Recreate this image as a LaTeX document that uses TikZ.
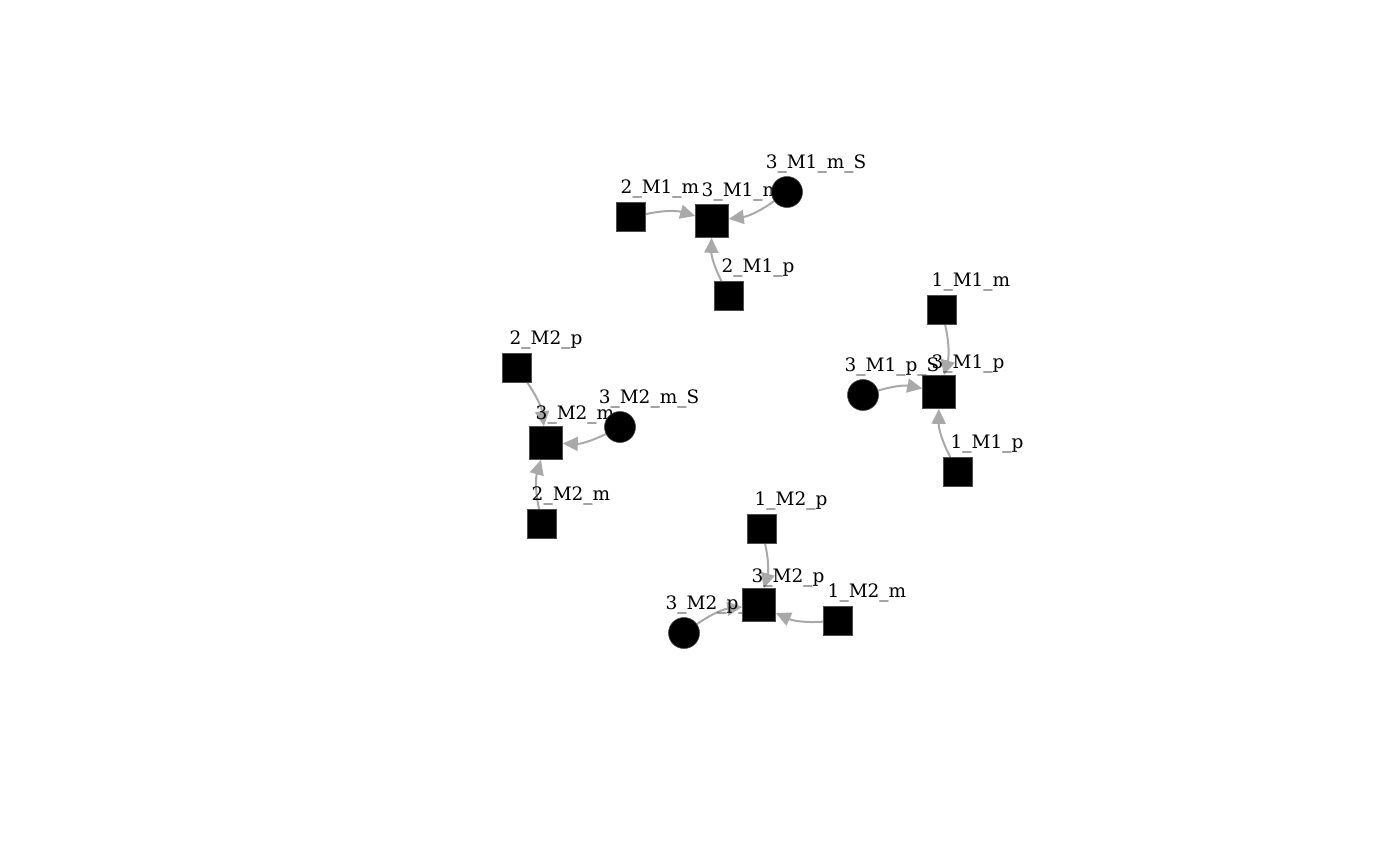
\documentclass[tikz,border=0pt]{standalone}
\usepackage{fontspec}
\setmainfont{DejaVu Serif}
\usetikzlibrary{arrows.meta}
\pgfdeclarelayer{edgelayer}
\pgfdeclarelayer{labellayer}
\pgfsetlayers{edgelayer,labellayer,main}
\definecolor{edgegray}{RGB}{169,169,169}
\tikzset{
  sq/.style={rectangle,fill=black,draw=black!70,line width=0.6pt,minimum size=29pt,inner sep=0pt},
  bigsq/.style={sq,minimum size=33pt},
  dot/.style={circle,fill=black,draw=black!70,line width=0.6pt,minimum size=31pt,inner sep=0pt},
  lab/.style={font=\fontsize{18.5}{20}\selectfont,inner sep=0pt,anchor=center},
  edge/.style={draw=edgegray,line width=2pt,-{Triangle[length=15pt,width=14pt]},bend left=14}
}
\begin{document}
\begin{tikzpicture}[x=1pt,y=-1pt]
\useasboundingbox (0,0) rectangle (1400,865);
% nodes
\node[sq] (n2M1m) at (631,217) {};
\node[bigsq] (n3M1m) at (712,221) {};
\node[dot] (n3M1mS) at (787,192) {};
\node[sq] (n2M1p) at (729,296) {};
\node[sq] (n1M1m) at (942,310) {};
\node[bigsq] (n3M1p) at (939,392) {};
\node[dot] (n3M1pS) at (863,395) {};
\node[sq] (n1M1p) at (958,472) {};
\node[sq] (n2M2p) at (517,368) {};
\node[bigsq] (n3M2m) at (546,443) {};
\node[dot] (n3M2mS) at (620,427) {};
\node[sq] (n2M2m) at (542,524) {};
\node[sq] (n1M2p) at (762,529) {};
\node[bigsq] (n3M2p) at (759,605) {};
\node[sq] (n1M2m) at (838,621) {};
\node[dot] (n3M2pS) at (684,633) {};
% labels
\begin{pgfonlayer}{labellayer}
\node[lab] (l2M1m) at (660,189) {2\_M1\_m};
\node[lab] (l3M1m) at (741,192) {3\_M1\_m};
\node[lab] (l3M1mS) at (816,164) {3\_M1\_m\_S};
\node[lab] (l2M1p) at (758,268) {2\_M1\_p};
\node[lab] (l1M1m) at (971,282) {1\_M1\_m};
\node[lab] (l3M1p) at (968,364) {3\_M1\_p};
\node[lab] (l3M1pS) at (892,367) {3\_M1\_p\_S};
\node[lab] (l1M1p) at (987,444) {1\_M1\_p};
\node[lab] (l2M2p) at (546,340) {2\_M2\_p};
\node[lab] (l3M2m) at (575,415) {3\_M2\_m};
\node[lab] (l3M2mS) at (649,399) {3\_M2\_m\_S};
\node[lab] (l2M2m) at (571,496) {2\_M2\_m};
\node[lab] (l1M2p) at (791,501) {1\_M2\_p};
\node[lab] (l3M2p) at (788,578) {3\_M2\_p};
\node[lab] (l1M2m) at (867,593) {1\_M2\_m};
\node[lab] (l3M2pS) at (713,605) {3\_M2\_p\_S};
\end{pgfonlayer}
% edges
\begin{pgfonlayer}{edgelayer}
\draw[edge] (n2M1m) to (n3M1m);
\draw[edge] (n3M1mS) to (n3M1m);
\draw[edge] (n2M1p) to (n3M1m);
\draw[edge] (n1M1m) to (n3M1p);
\draw[edge] (n3M1pS) to (n3M1p);
\draw[edge] (n1M1p) to (n3M1p);
\draw[edge] (n2M2p) to (n3M2m);
\draw[edge] (n3M2mS) to (n3M2m);
\draw[edge] (n2M2m) to (n3M2m);
\draw[edge] (n1M2p) to (n3M2p);
\draw[edge] (n3M2pS) to (n3M2p);
\draw[edge] (n1M2m) to (n3M2p);
\end{pgfonlayer}
\end{tikzpicture}
\end{document}
